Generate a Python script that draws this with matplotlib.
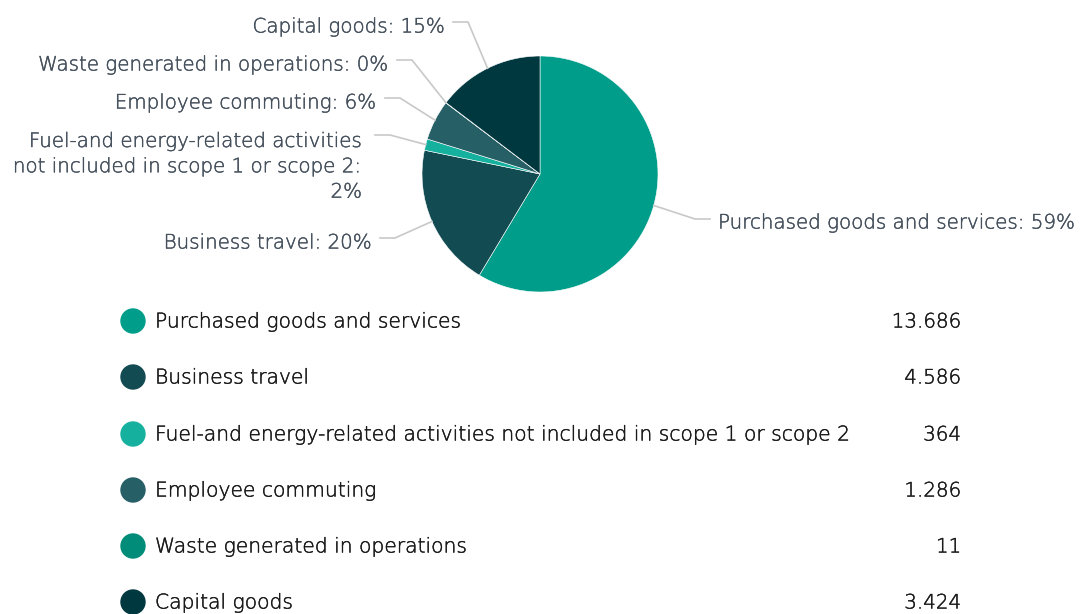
import matplotlib
matplotlib.use("Agg")
import matplotlib.pyplot as plt
import matplotlib.patheffects as pe
import numpy as np
from matplotlib.patches import Circle

plt.rcParams['font.family'] = ['DejaVu Sans']

# data
categories = ["Purchased goods and services", "Business travel",
              "Fuel-and energy-related activities not included in scope 1 or scope 2",
              "Employee commuting", "Waste generated in operations", "Capital goods"]
pie_labels = ["Purchased goods and services", "Business travel",
              "Fuel-and energy-related activities\nnot included in scope 1 or scope 2:\n",
              "Employee commuting", "Waste generated in operations", "Capital goods"]
values = [13686, 4586, 364, 1286, 11, 3424]
value_labels = ["13.686", "4.586", "364", "1.286", "11", "3.424"]
colors = ["#009E8A", "#134B53", "#16B19E", "#265F66", "#008C78", "#003840"]

W, H = 1080, 614
fig = plt.figure(figsize=(W / 100, H / 100), dpi=100)
ax = fig.add_axes([0, 0, 1, 1])

cx, cy, r = 540, H - 174, 118
wedges, _ = ax.pie(values, colors=colors, startangle=90, counterclock=False,
                   center=(cx, cy), radius=r,
                   wedgeprops=dict(edgecolor='white', linewidth=0.4), frame=True)
ax.set_xlim(0, W)
ax.set_ylim(0, H)
ax.set_aspect('equal')
ax.axis('off')

total = sum(values)
pcts = [round(v / total * 100) for v in values]

fs = 14.3
fw = 'light'
# label positions (knee point x, y in px from top, text side)
lab_pos = [(710, 219, 'left'), (395, 238, 'right'), (390, 135, 'right'),
           (400, 98, 'right'), (412, 60, 'right'), (468, 22, 'right')]
line_c = "#C8C8C8"
text_c = "#45505C"
legend_c = "#1A1A1A"
thick_lab = [pe.withStroke(linewidth=0.3, foreground=text_c)]
thick_leg = [pe.withStroke(linewidth=0.3, foreground=legend_c)]
for w, name, p, (kx, ky, side) in zip(wedges, pie_labels, pcts, lab_pos):
    ang = np.deg2rad((w.theta1 + w.theta2) / 2)
    ex, ey = cx + r * np.cos(ang), cy + r * np.sin(ang)
    ky = H - ky
    if side == 'left':
        ax.plot([ex, kx - 15, kx], [ey, ky, ky], color=line_c, lw=1.2)
        ax.text(kx + 8, ky - 4, f"{name}: {p}%", ha='left', va='center',
                fontsize=fs, fontweight=fw, color=text_c, path_effects=thick_lab)
    else:
        ax.plot([ex, kx, kx - 15], [ey, ky, ky], color=line_c, lw=1.2)
        if name.endswith("\n"):
            ax.text(kx - 28, ky + 3, f"{name}{p}%", ha='right', va='top',
                    fontsize=fs, fontweight=fw, color=text_c, linespacing=1.42,
                    multialignment='right', path_effects=thick_lab)
        else:
            ax.text(kx - 23, ky - 5, f"{name}: {p}%", ha='right', va='center',
                    fontsize=fs, fontweight=fw, color=text_c, path_effects=thick_lab)

# legend table
row_y = [322, 378, 435, 491, 547, 603]
for name, vl, c, y in zip(categories, value_labels, colors, row_y):
    yy = H - y
    ax.add_patch(Circle((133, yy + 1), 12, color=c))
    ax.text(155, yy, name, ha='left', va='center', fontsize=fs + 0.3,
            fontweight=fw, color=legend_c, path_effects=thick_leg)
    ax.text(961, yy, vl, ha='right', va='center', fontsize=fs,
            fontweight=fw, color=legend_c, path_effects=thick_leg)

fig.savefig("out.png", dpi=100)
